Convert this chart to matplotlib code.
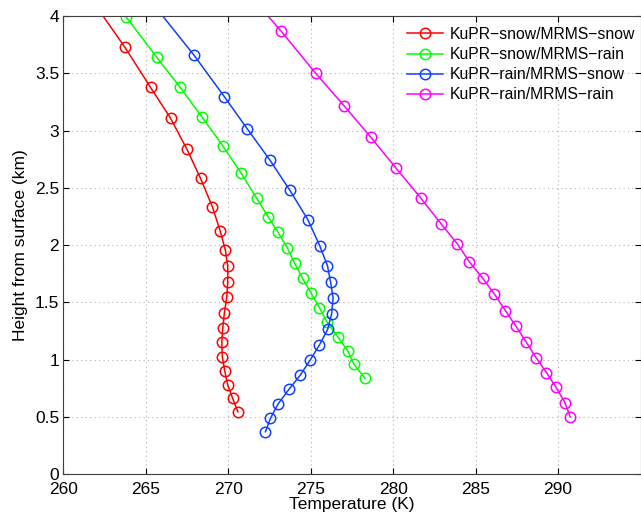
import matplotlib
matplotlib.use('Agg')
import matplotlib.pyplot as plt

plt.rcParams['font.family'] = ['Liberation Sans', 'DejaVu Sans']

# KuPR-snow/MRMS-snow
h_ss = [4.08, 3.73, 3.377, 3.106, 2.836, 2.583, 2.335, 2.120, 1.955, 1.818, 1.675,
        1.544, 1.410, 1.279, 1.152, 1.026, 0.901, 0.779, 0.663, 0.544]
t_ss = [262.02, 263.72, 265.29, 266.51, 267.50, 268.32, 269.04, 269.52, 269.83, 269.97, 269.97,
        269.91, 269.77, 269.67, 269.61, 269.64, 269.79, 269.97, 270.27, 270.59]

# KuPR-snow/MRMS-rain
h_sr = [3.99, 3.639, 3.377, 3.120, 2.867, 2.627, 2.411, 2.248, 2.112, 1.975, 1.841,
        1.710, 1.579, 1.454, 1.332, 1.201, 1.079, 0.960, 0.838]
t_sr = [263.82, 265.67, 267.09, 268.40, 269.67, 270.79, 271.72, 272.42, 273.02, 273.59, 274.03,
        274.51, 275.03, 275.53, 275.97, 276.64, 277.24, 277.63, 278.29]

# KuPR-rain/MRMS-snow
h_rs = [4.07, 3.659, 3.295, 3.016, 2.740, 2.478, 2.222, 1.995, 1.820, 1.675, 1.538,
        1.399, 1.265, 1.128, 0.997, 0.866, 0.741, 0.613, 0.488, 0.372]
t_rs = [265.64, 267.92, 269.77, 271.15, 272.54, 273.74, 274.83, 275.55, 276.02, 276.21, 276.36,
        276.27, 276.03, 275.53, 274.97, 274.37, 273.68, 273.02, 272.56, 272.26]

# KuPR-rain/MRMS-rain
h_rr = [4.2, 3.866, 3.499, 3.214, 2.941, 2.670, 2.414, 2.182, 2.012, 1.855, 1.710,
        1.573, 1.428, 1.291, 1.154, 1.017, 0.887, 0.759, 0.625, 0.500]
t_rr = [271.2, 273.22, 275.31, 277.04, 278.65, 280.19, 281.66, 282.93, 283.89, 284.62, 285.44,
        286.14, 286.81, 287.45, 288.07, 288.67, 289.30, 289.88, 290.42, 290.74]

labels = ['KuPR\u2212snow/MRMS\u2212snow', 'KuPR\u2212snow/MRMS\u2212rain',
          'KuPR\u2212rain/MRMS\u2212snow', 'KuPR\u2212rain/MRMS\u2212rain']
colors = ['#ff0000', '#00ff00', '#1040ff', '#ff00ff']

fig = plt.figure(figsize=(6.41, 5.2), dpi=100)
ax = fig.add_axes([63.3 / 641, 45.7 / 520, (640.5 - 63.3) / 641, (474.3 - 16) / 520])

for t, h, lab, c in zip([t_ss, t_sr, t_rs, t_rr], [h_ss, h_sr, h_rs, h_rr], labels, colors):
    ax.plot(t, h, '-o', color=c, mfc='none', mec=c, ms=7.5, mew=1.1, lw=1.1, label=lab)

ax.set_xlim(260, 295)
ax.set_ylim(0, 4)
ax.set_xticks([260, 265, 270, 275, 280, 285, 290])
ax.set_yticks([0, 0.5, 1, 1.5, 2, 2.5, 3, 3.5, 4])
ax.set_yticklabels(['0', '0.5', '1', '1.5', '2', '2.5', '3', '3.5', '4'])
ax.grid(True, linestyle=(0, (1, 3)), color='#b0b0b0', lw=0.8)
ax.tick_params(direction='in', top=True, right=True, labelsize=12.5, length=4, width=0.8)
ax.tick_params(axis='x', pad=5.5)
ax.tick_params(axis='y', pad=3)
for s in ax.spines.values():
    s.set_color('#404040')
    s.set_linewidth(0.8)

ax.set_xlabel('Temperature (K)', fontsize=12.5, labelpad=0)
ax.set_ylabel('Height from surface (km)', fontsize=12.5, labelpad=5)

ax.legend(loc='upper right', bbox_to_anchor=(1.009, 1.0), frameon=False, fontsize=11.3,
          handlelength=2.3, handletextpad=0.4, labelspacing=0.32, borderaxespad=0.3)

fig.savefig('out.png', dpi=100)
